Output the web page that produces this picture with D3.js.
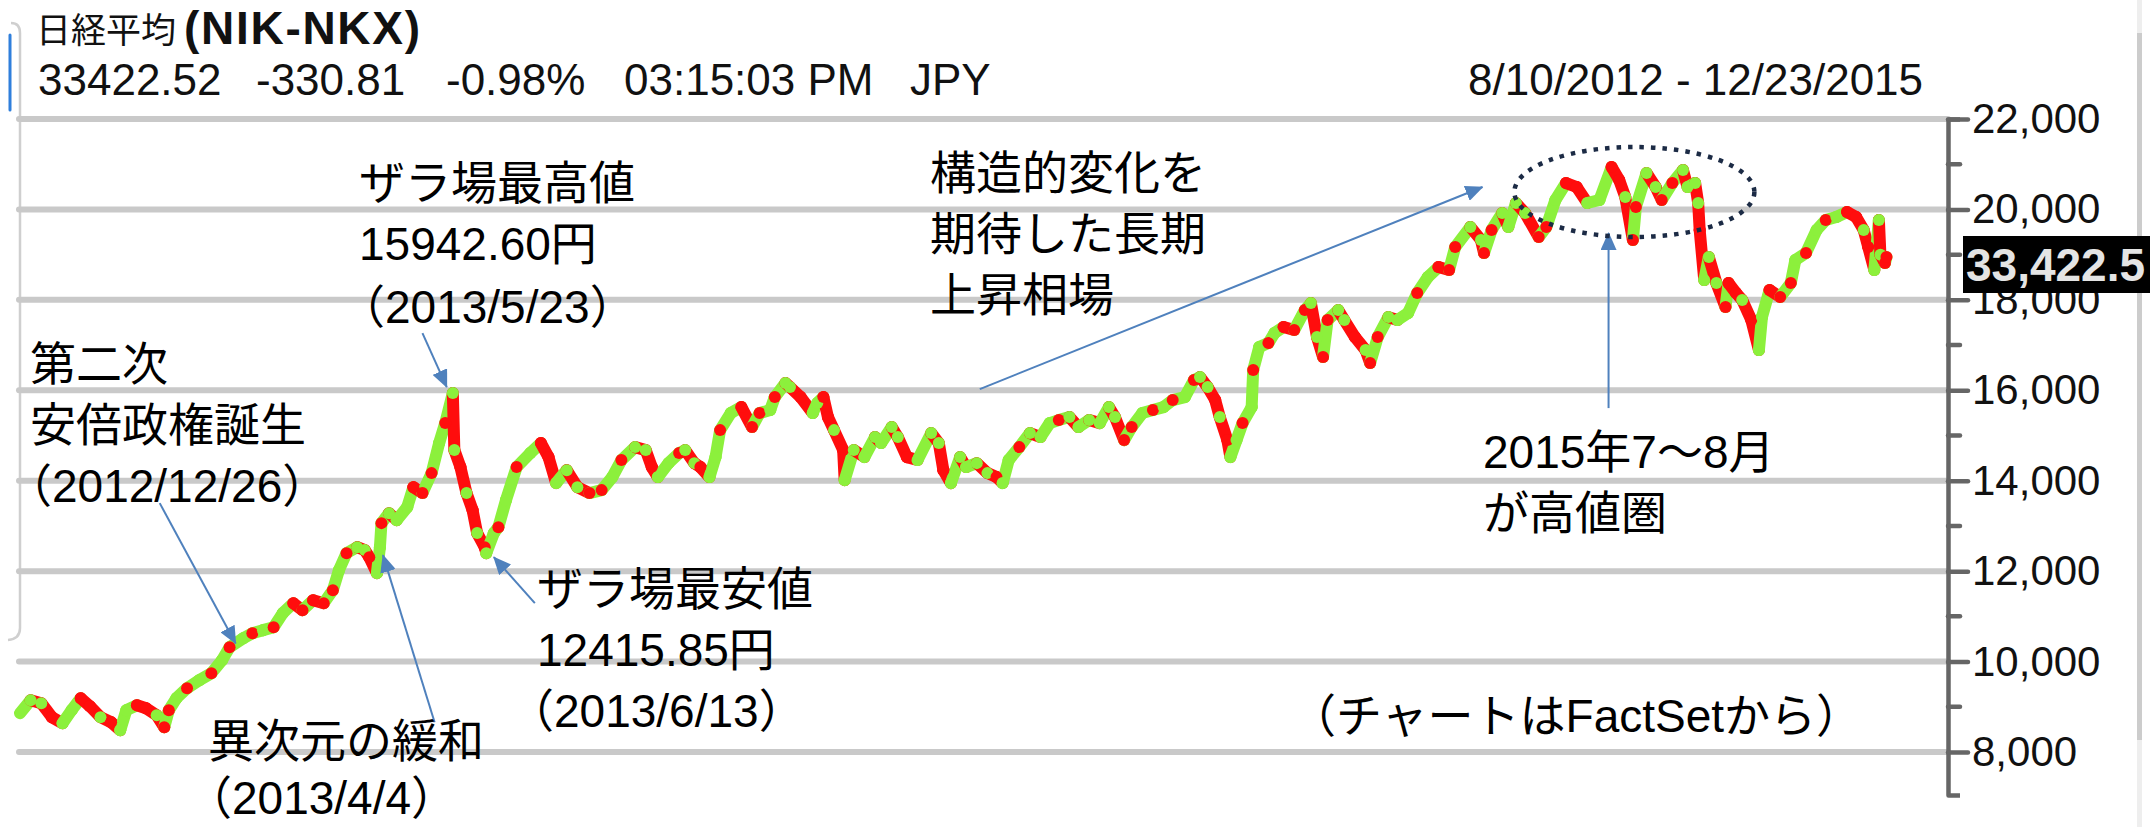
<!DOCTYPE html>
<html><head><meta charset="utf-8">
<script src="https://cdn.jsdelivr.net/npm/d3@7"></script>
<style>
body{margin:0;background:#fff;}
svg{display:block;}
text{font-family:"Liberation Sans",Arial,"Noto Sans CJK JP",sans-serif;}
</style>
</head><body>
<svg id="chart" width="2150" height="827"></svg>
<script>
// ---- data ----
const dates = [
"2012-08-10","2012-08-17","2012-08-24","2012-08-31","2012-09-07","2012-09-13","2012-09-19","2012-09-25",
"2012-10-02","2012-10-09","2012-10-15","2012-10-19","2012-10-26","2012-11-01","2012-11-08","2012-11-13",
"2012-11-16","2012-11-21","2012-11-28","2012-12-06","2012-12-14","2012-12-21","2012-12-26","2013-01-04",
"2013-01-10","2013-01-17","2013-01-24","2013-01-30","2013-02-06","2013-02-12","2013-02-19","2013-02-26",
"2013-03-04","2013-03-08","2013-03-13","2013-03-20","2013-03-25","2013-03-28","2013-04-02","2013-04-04",
"2013-04-05","2013-04-10","2013-04-15","2013-04-22","2013-04-26","2013-05-02","2013-05-08","2013-05-13",
"2013-05-17","2013-05-22","2013-05-23","2013-05-27","2013-05-31","2013-06-04","2013-06-07","2013-06-12",
"2013-06-13","2013-06-18","2013-06-21","2013-06-26","2013-07-03","2013-07-12","2013-07-19","2013-07-24",
"2013-07-29","2013-08-05","2013-08-12","2013-08-20","2013-08-28","2013-09-04","2013-09-10","2013-09-19",
"2013-09-26","2013-09-30","2013-10-04","2013-10-11","2013-10-18","2013-10-22","2013-10-28","2013-11-01",
"2013-11-07","2013-11-11","2013-11-14","2013-11-21","2013-11-28","2013-12-05","2013-12-10","2013-12-17",
"2013-12-20","2013-12-27","2013-12-30","2014-01-06","2014-01-14","2014-01-17","2014-01-21","2014-01-24",
"2014-01-28","2014-02-03","2014-02-04","2014-02-10","2014-02-17","2014-02-24","2014-02-28","2014-03-07",
"2014-03-11","2014-03-17","2014-03-24","2014-04-02","2014-04-07","2014-04-10","2014-04-15","2014-04-21",
"2014-04-25","2014-05-02","2014-05-09","2014-05-15","2014-05-19","2014-05-23","2014-05-30","2014-06-06",
"2014-06-13","2014-06-19","2014-06-25","2014-07-02","2014-07-08","2014-07-15","2014-07-22","2014-07-28",
"2014-08-01","2014-08-07","2014-08-12","2014-08-19","2014-08-26","2014-09-02","2014-09-08","2014-09-16",
"2014-09-22","2014-09-26","2014-10-01","2014-10-06","2014-10-09","2014-10-14","2014-10-16","2014-10-20",
"2014-10-24","2014-10-30","2014-10-31","2014-11-04","2014-11-10","2014-11-14","2014-11-20","2014-11-27",
"2014-12-04","2014-12-08","2014-12-12","2014-12-16","2014-12-19","2014-12-26","2014-12-30","2015-01-06",
"2015-01-13","2015-01-16","2015-01-21","2015-01-28","2015-02-03","2015-02-10","2015-02-16","2015-02-23",
"2015-03-02","2015-03-09","2015-03-13","2015-03-23","2015-03-30","2015-04-01","2015-04-06","2015-04-13",
"2015-04-17","2015-04-22","2015-04-28","2015-05-07","2015-05-12","2015-05-18","2015-05-25","2015-06-01",
"2015-06-08","2015-06-16","2015-06-24","2015-06-29","2015-07-03","2015-07-08","2015-07-10","2015-07-17",
"2015-07-23","2015-07-27","2015-08-03","2015-08-10","2015-08-13","2015-08-18","2015-08-20","2015-08-21",
"2015-08-24","2015-08-27","2015-09-01","2015-09-07","2015-09-09","2015-09-14","2015-09-18","2015-09-24",
"2015-09-29","2015-10-01","2015-10-06","2015-10-13","2015-10-20","2015-10-23","2015-10-30","2015-11-06",
"2015-11-12","2015-11-19","2015-11-26","2015-12-02","2015-12-07","2015-12-10","2015-12-14","2015-12-17",
"2015-12-18","2015-12-21","2015-12-22"
];
const closes = [
8858,9146,9080,8770,8637,8925,9190,9013,
8770,8659,8482,8925,9035,8968,8814,8549,
8925,9190,9411,9588,9743,10031,10319,10518,
10628,10695,10761,11071,11292,11137,11358,11292,
11580,12022,12398,12531,12465,12310,11956,12531,
13062,13283,13128,13416,13858,13726,14168,14832,
15274,15938,14677,14301,13726,13350,12841,12531,
12398,12841,12973,13571,14301,14611,14832,14522,
13947,14234,13858,13726,13792,14080,14456,14743,
14677,14301,14080,14389,14611,14677,14389,14301,
14080,14522,15119,15496,15628,15186,15496,15562,
15850,16159,16071,15850,15496,15717,15850,15407,
15119,14677,14013,14677,14522,14965,14832,15186,
14965,14522,14456,15053,14832,14234,13947,14522,
14301,14389,14168,14080,13947,14456,14743,15053,
14965,15274,15341,15407,15186,15341,15274,15628,
15407,14898,15186,15496,15562,15628,15783,15850,
16226,16292,16071,15783,15407,14898,14522,14898,
15274,15628,16447,16956,17044,17265,17398,17332,
17774,17929,17177,16734,17553,17774,17553,17177,
16889,16602,17177,17619,17553,17708,18150,18504,
18726,18659,19168,19611,19323,19035,19544,19920,
19611,20142,19920,19389,19611,20208,20584,20496,
20142,20208,20938,20650,20274,19323,20053,20805,
20496,20208,20584,20872,20496,20584,20142,19544,
18438,18947,18372,17841,18372,18150,17996,17553,
16889,17619,18217,18062,18372,18881,19035,19544,
19765,19832,19942,19832,19544,19168,18659,19765,
19000,18814,18947
];
const majorTicks = [8000,10000,12000,14000,16000,18000,20000,22000];
const minorTicks = [9000,11000,13000,15000,17000,19000,21000];
const headerTitle = "日経平均";
const headerCode = "(NIK-NKX)";
const headerQuote = ["33422.52","-330.81","-0.98%","03:15:03 PM","JPY"];
const headerRange = "8/10/2012 - 12/23/2015";
const lastValueLabel = "33,422.5";

// annotations: text blocks
const notes = [
  {x:359, y:199, lines:["ザラ場最高値","15942.60円"]},
  {x:339, y:323, lines:["（2013/5/23）"]},
  {x:30,  y:380, lines:["第二次","安倍政権誕生"]},
  {x:6,   y:502, lines:["（2012/12/26）"]},
  {x:930, y:189, lines:["構造的変化を","期待した長期","上昇相場"]},
  {x:1483,y:468, lines:["2015年7～8月","が高値圏"]},
  {x:537, y:605, lines:["ザラ場最安値","12415.85円"]},
  {x:508, y:727, lines:["（2013/6/13）"]},
  {x:1290,y:732, lines:["（チャートはFactSetから）"]},
  {x:208, y:757, lines:["異次元の緩和"]},
  {x:186, y:814, lines:["（2013/4/4）"]}
];
// arrows: [tailDate, tailValue] -> [tipDate, tipValue]
const arrows = [
  [["2012-11-10",13504],["2012-12-30",10400]],
  [["2013-05-02",17265],["2013-05-18",16070]],
  [["2013-05-10",8659],["2013-04-06",12354]],
  [["2013-07-15",11292],["2013-06-18",12310]],
  [["2014-05-04",16027],["2015-03-31",20496]],
  [["2015-06-22",15606],["2015-06-22",19478]]
];
const highZone = {date:"2015-07-09", value:20385};

// ---- drawing ----
const svg = d3.select("#chart");
const parse = d3.timeParse("%Y-%m-%d");
const x = d3.scaleTime().domain([parse("2012-08-10"), parse("2015-12-23")]).range([20, 1888]);
const y = d3.scaleLinear().domain([8000, 22000]).range([752, 119]);
const axisX = 1948;
const GREEN = "#8cf03c", RED = "#ff0d0d", GRID = "#c9c9c9", BLUE = "#4f81bd";

svg.append("rect").attr("width",2150).attr("height",827).attr("fill","#fff");

// right gray bar
svg.append("rect").attr("x",2137).attr("y",0).attr("width",5).attr("height",827).attr("fill","#eeeeee");
svg.append("rect").attr("x",2137).attr("y",33).attr("width",5).attr("height",707).attr("fill","#cccccc");

// left frame and indicator
svg.append("path").attr("d","M11,23 Q20,23 20,33 L20,628 Q20,639 8,640")
  .attr("fill","none").attr("stroke","#cfcfcf").attr("stroke-width",2.5);
svg.append("line").attr("x1",10).attr("x2",10).attr("y1",35).attr("y2",110)
  .attr("stroke","#2f7fdc").attr("stroke-width",3).attr("stroke-linecap","round");

// gridlines
svg.append("g").selectAll("line").data(majorTicks).join("line")
  .attr("x1",19).attr("x2",axisX).attr("y1",d=>y(d)).attr("y2",d=>y(d))
  .attr("stroke",GRID).attr("stroke-width",6).attr("stroke-linecap","round");

// header
const hdr = svg.append("g");
hdr.append("text").attr("x",36).attr("y",43).attr("font-size",35).attr("fill","#111").text(headerTitle);
hdr.append("text").attr("x",184).attr("y",44).attr("font-size",46).attr("font-weight","bold")
  .attr("textLength",236).attr("lengthAdjust","spacing").attr("fill","#111").text(headerCode);
const quoteX = [38,256,446,624,910];
hdr.selectAll("text.q").data(headerQuote).join("text").attr("class","q")
  .attr("x",(d,i)=>quoteX[i]).attr("y",95).attr("font-size",44).attr("fill","#111").text(d=>d);
hdr.append("text").attr("x",1468).attr("y",95).attr("font-size",44).attr("fill","#111").text(headerRange);

// price band
const data = dates.map((d,i)=>({date:parse(d), value:closes[i]}));
const segs = data.slice(1).map((d,i)=>({a:data[i], b:d, up:d.value>=data[i].value}));
const band = svg.append("g");
band.selectAll("line").data(segs).join("line")
  .attr("x1",s=>x(s.a.date)).attr("y1",s=>y(s.a.value))
  .attr("x2",s=>x(s.b.date)).attr("y2",s=>y(s.b.value))
  .attr("stroke",s=>s.up?GREEN:RED).attr("stroke-width",12).attr("stroke-linecap","round");
band.selectAll("circle").data(segs).join("circle")
  .attr("cx",s=>x(s.b.date)).attr("cy",s=>y(s.b.value)).attr("r",6)
  .attr("fill",(s,i)=>i%2? (s.up?RED:GREEN) : (s.up?GREEN:RED));

// axis
const axisScale = y.copy().domain([7050,22000]).range([y(7050), y(22000)]);
const ax = svg.append("g").attr("transform",`translate(${axisX},0)`)
  .call(d3.axisRight(axisScale).tickValues(majorTicks).tickSize(20).tickSizeOuter(12)
    .tickPadding(4).tickFormat(d3.format(",")));
ax.select(".domain").attr("stroke","#666").attr("stroke-width",4.5).attr("stroke-linejoin","round");
ax.selectAll(".tick line").attr("stroke","#666").attr("stroke-width",4.5).attr("stroke-linecap","round");
ax.selectAll(".tick text").attr("font-size",42).attr("fill","#111")
  .attr("font-family","'Liberation Sans',Arial,sans-serif");
ax.selectAll("line.minor").data(minorTicks).join("line").attr("class","minor")
  .attr("x1",0).attr("x2",12).attr("y1",d=>axisScale(d)).attr("y2",d=>axisScale(d))
  .attr("stroke","#666").attr("stroke-width",4.5).attr("stroke-linecap","round");

// last value box
svg.append("clipPath").attr("id","boxclip").append("rect")
  .attr("x",1963).attr("y",230).attr("width",187).attr("height",70);
const box = svg.append("g").attr("clip-path","url(#boxclip)");
box.append("rect").attr("x",1963).attr("y",236).attr("width",187).attr("height",57).attr("fill","#000");
box.append("text").attr("x",1966).attr("y",281).attr("font-size",46).attr("font-weight","bold")
  .attr("fill","#e4e4e4").text(lastValueLabel);

// annotation arrows
const defs = svg.append("defs");
defs.append("marker").attr("id","ah").attr("viewBox","0 0 18 16").attr("refX",17).attr("refY",8)
  .attr("markerWidth",18).attr("markerHeight",16).attr("markerUnits","userSpaceOnUse")
  .attr("orient","auto").append("path").attr("d","M0,0 L18,8 L0,16 Z").attr("fill",BLUE);
svg.append("g").selectAll("line").data(arrows).join("line")
  .attr("x1",d=>x(parse(d[0][0]))).attr("y1",d=>y(d[0][1]))
  .attr("x2",d=>x(parse(d[1][0]))).attr("y2",d=>y(d[1][1]))
  .attr("stroke",BLUE).attr("stroke-width",2).attr("marker-end","url(#ah)");

// dotted ellipse
svg.append("ellipse").attr("cx",x(parse(highZone.date))).attr("cy",y(highZone.value))
  .attr("rx",120).attr("ry",45).attr("fill","none").attr("stroke","#1c2b45")
  .attr("stroke-width",4.5).attr("stroke-dasharray","4.5 7");

// annotation text
const ng = svg.append("g");
notes.forEach(n=>{
  const t = ng.append("text").attr("x",n.x).attr("y",n.y).attr("font-size",46).attr("fill","#000");
  n.lines.forEach((l,i)=>t.append("tspan").attr("x",n.x).attr("y",n.y+i*61).text(l));
});
</script>
</body></html>
